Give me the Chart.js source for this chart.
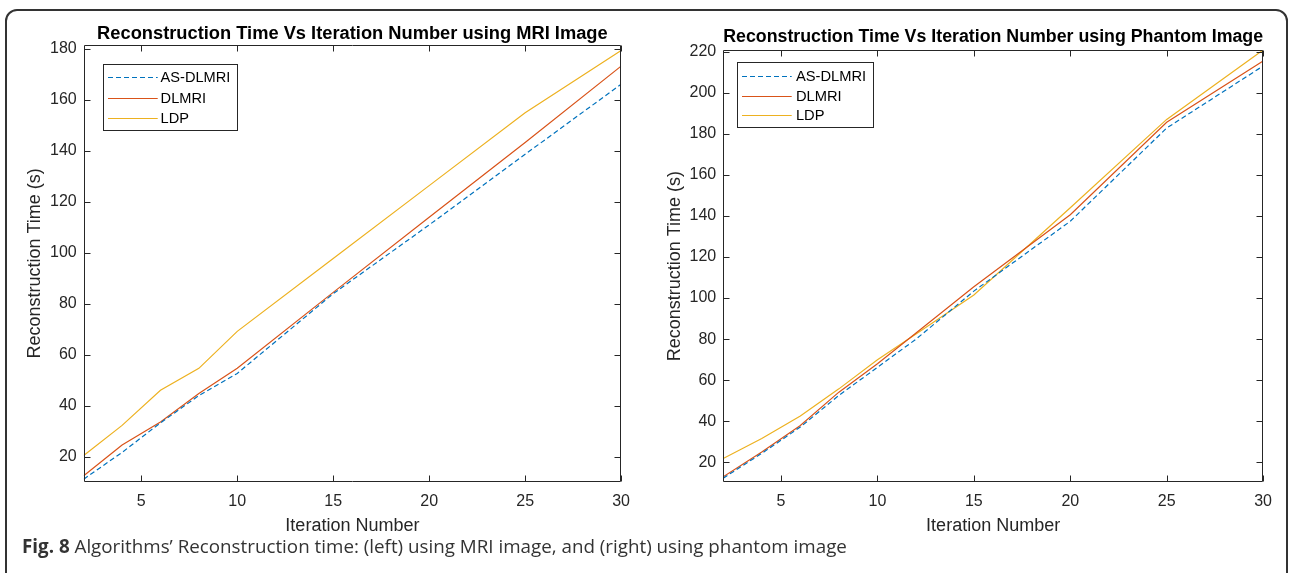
<!DOCTYPE html>
<html lang="en">
<head>
<meta charset="UTF-8">
<title>Reconstruction Time Vs Iteration Number</title>
<script src="https://cdn.jsdelivr.net/npm/chart.js"></script>
<style>
  body { margin: 0; background: #fff; width: 1290px; height: 573px; overflow: hidden; position: relative; }
  .frame { position: absolute; left: 5px; top: 9px; width: 1283px; height: 600px; box-sizing: border-box; border: 2px solid #333; border-radius: 12px; }
  canvas { position: absolute; top: 0; }
  #mriChart { left: 0; }
  #phantomChart { left: 640px; }
  .caption { position: absolute; left: 22px; top: 537px; font-family: 'Open Sans', sans-serif; font-size: 18.8px; line-height: 1; color: #333; white-space: nowrap; }
</style>
</head>
<body>
<div class="frame"></div>
<canvas id="mriChart" width="640" height="540"></canvas>
<canvas id="phantomChart" width="650" height="540"></canvas>
<div class="caption"><b>Fig. 8</b> Algorithms’ Reconstruction time: (left) using MRI image, and (right) using phantom image</div>

<script>
// series shared by both plots
const seriesNames = ['AS-DLMRI', 'DLMRI', 'LDP'];
const seriesColors = ['#0072BD', '#D95319', '#EDB120'];
const xTicks = [5, 10, 15, 20, 25, 30];

// left plot: MRI image
const mriIterations = [2, 4, 6, 8, 10, 15, 20, 25, 30];
const mriAsDlmri = [11.2, 21.7, 33.3, 44.0, 52.7, 84.0, 111.0, 138.7, 166.2];
const mriDlmri   = [12.5, 24.6, 33.6, 44.8, 54.7, 84.5, 114.0, 143.3, 173.3];
const mriLdp     = [20.5, 32.3, 46.1, 54.7, 69.2, 97.8, 126.4, 155.0, 179.4];
const mriYTicks = [20, 40, 60, 80, 100, 120, 140, 160, 180];

// right plot: phantom image
const phantomIterations = [2, 4, 6, 8, 10, 12, 15, 20, 25, 30];
const phantomAsDlmri = [12.3, 24.4, 37.2, 52.6, 66.3, 80.0, 103.4, 137.4, 182.8, 213.0];
const phantomDlmri   = [13.0, 25.1, 38.0, 54.2, 68.0, 83.0, 105.5, 140.6, 185.6, 215.5];
const phantomLdp     = [21.9, 31.6, 42.6, 55.8, 70.0, 82.5, 101.5, 144.0, 187.0, 220.8];
const phantomYTicks = [20, 40, 60, 80, 100, 120, 140, 160, 180, 200, 220];

Chart.defaults.font.family = "'Liberation Sans', Arial, sans-serif";
Chart.defaults.color = '#262626';

function makeDatasets(iters, lists) {
    return lists.map((vals, i) => ({
        label: seriesNames[i],
        data: iters.map((it, k) => ({ x: it, y: vals[k] })),
        borderColor: seriesColors[i],
        borderWidth: 1.2,
        borderDash: i === 0 ? [5, 3] : [],
        pointRadius: 0,
        tension: 0,
        fill: false
    }));
}

// matlab style box with inward ticks on all four sides
const axesBox = {
    id: 'axesBox',
    afterDraw(chart) {
        const { ctx, chartArea: a, scales: { x, y } } = chart;
        const L = Math.round(a.left) + 0.5, R = Math.round(a.right) - 0.5;
        const T = Math.round(a.top) + 0.5, B = Math.round(a.bottom) - 0.5;
        const len = 6;
        ctx.save();
        ctx.strokeStyle = '#262626';
        ctx.lineWidth = 1;
        ctx.beginPath();
        ctx.rect(L, T, R - L, B - T);
        x.ticks.forEach(t => {
            const px = Math.round(x.getPixelForValue(t.value)) + 0.5;
            ctx.moveTo(px, B); ctx.lineTo(px, B - len);
            ctx.moveTo(px, T); ctx.lineTo(px, T + len);
        });
        y.ticks.forEach(t => {
            const py = Math.round(y.getPixelForValue(t.value)) + 0.5;
            ctx.moveTo(L, py); ctx.lineTo(L + len, py);
            ctx.moveTo(R, py); ctx.lineTo(R - len, py);
        });
        ctx.stroke();
        ctx.restore();
    }
};

// legend box inside the axes, top left
const boxLegend = {
    id: 'boxLegend',
    afterDraw(chart, args, o) {
        const { ctx, chartArea: a } = chart;
        const x0 = Math.round(a.left + o.dx), y0 = Math.round(a.top + o.dy);
        ctx.save();
        ctx.fillStyle = '#fff';
        ctx.fillRect(x0, y0, o.w, o.h);
        ctx.strokeStyle = '#262626';
        ctx.lineWidth = 1;
        ctx.strokeRect(x0 + 0.5, y0 + 0.5, Math.round(o.w), Math.round(o.h));
        ctx.font = o.fontSize + "px 'Liberation Sans', Arial, sans-serif";
        ctx.textBaseline = 'middle';
        chart.data.datasets.forEach((ds, i) => {
            const yy = Math.round(y0 + o.rows[i]) + 0.5;
            ctx.strokeStyle = ds.borderColor;
            ctx.lineWidth = ds.borderWidth;
            ctx.setLineDash(ds.borderDash);
            ctx.beginPath();
            ctx.moveTo(x0 + o.lineStart, yy);
            ctx.lineTo(x0 + o.lineEnd, yy);
            ctx.stroke();
            ctx.setLineDash([]);
            ctx.fillStyle = '#000';
            ctx.fillText(ds.label, x0 + o.textStart, yy);
        });
        ctx.restore();
    }
};

function buildChart(id, cfg) {
    return new Chart(document.getElementById(id), {
        type: 'line',
        data: { datasets: makeDatasets(cfg.iters, cfg.series) },
        options: {
            responsive: false,
            animation: false,
            devicePixelRatio: 1,
            layout: { padding: { left: 0, right: cfg.padRight, top: 0, bottom: 0 } },
            plugins: {
                legend: { display: false },
                tooltip: { enabled: false },
                title: {
                    display: true,
                    fullSize: false,
                    text: cfg.title,
                    color: '#000',
                    font: { size: 18.3, weight: 'bold' },
                    padding: { top: cfg.titleTop, bottom: cfg.titleBottom }
                },
                boxLegend: cfg.legend
            },
            scales: {
                x: {
                    type: 'linear',
                    min: 2,
                    max: 30,
                    grid: { display: false, drawTicks: false },
                    border: { display: false },
                    afterBuildTicks: s => { s.ticks = xTicks.map(v => ({ value: v })); },
                    afterFit: s => { s.height = cfg.xAxisHeight; },
                    ticks: { padding: 10, font: { size: 16 }, color: '#262626', maxRotation: 0 },
                    title: {
                        display: true,
                        text: 'Iteration Number',
                        color: '#262626',
                        font: { size: 18 },
                        padding: { top: 0, bottom: 3.4 }
                    }
                },
                y: {
                    type: 'linear',
                    min: cfg.yMin,
                    max: cfg.yMax,
                    grid: { display: false, drawTicks: false },
                    border: { display: false },
                    afterBuildTicks: s => { s.ticks = cfg.yTicks.map(v => ({ value: v })); },
                    afterFit: s => { s.width = cfg.yAxisWidth; },
                    ticks: { padding: 7, font: { size: 16 }, color: '#262626' },
                    title: {
                        display: true,
                        text: 'Reconstruction Time (s)',
                        color: '#262626',
                        font: { size: 18 },
                        padding: { top: 23.8, bottom: 0 }
                    }
                }
            }
        },
        plugins: [axesBox, boxLegend]
    });
}

buildChart('mriChart', {
    iters: mriIterations,
    series: [mriAsDlmri, mriDlmri, mriLdp],
    title: 'Reconstruction Time Vs Iteration Number using MRI Image',
    titleTop: 23, titleBottom: 0.04,
    padRight: 18.1,
    xAxisHeight: 58.3,
    yAxisWidth: 83.7,
    yMin: 10.2, yMax: 181.6,
    yTicks: mriYTicks,
    legend: { dx: 19.1, dy: 19.3, w: 134, h: 66, lineStart: 5, lineEnd: 54.7, textStart: 57.6, rows: [13.4, 34.2, 54], fontSize: 14.6 }
});

buildChart('phantomChart', {
    iters: phantomIterations,
    series: [phantomAsDlmri, phantomDlmri, phantomLdp],
    title: 'Reconstruction Time Vs Iteration Number using Phantom Image',
    titleTop: 25.8, titleBottom: 2.24,
    padRight: 26.9,
    xAxisHeight: 57.7,
    yAxisWidth: 83.2,
    yMin: 10.3, yMax: 220.8,
    yTicks: phantomYTicks,
    legend: { dx: 13.4, dy: 11.7, w: 136, h: 65, lineStart: 5, lineEnd: 54.7, textStart: 58.9, rows: [14, 34, 52.6], fontSize: 14.7 }
});
</script>
</body>
</html>
